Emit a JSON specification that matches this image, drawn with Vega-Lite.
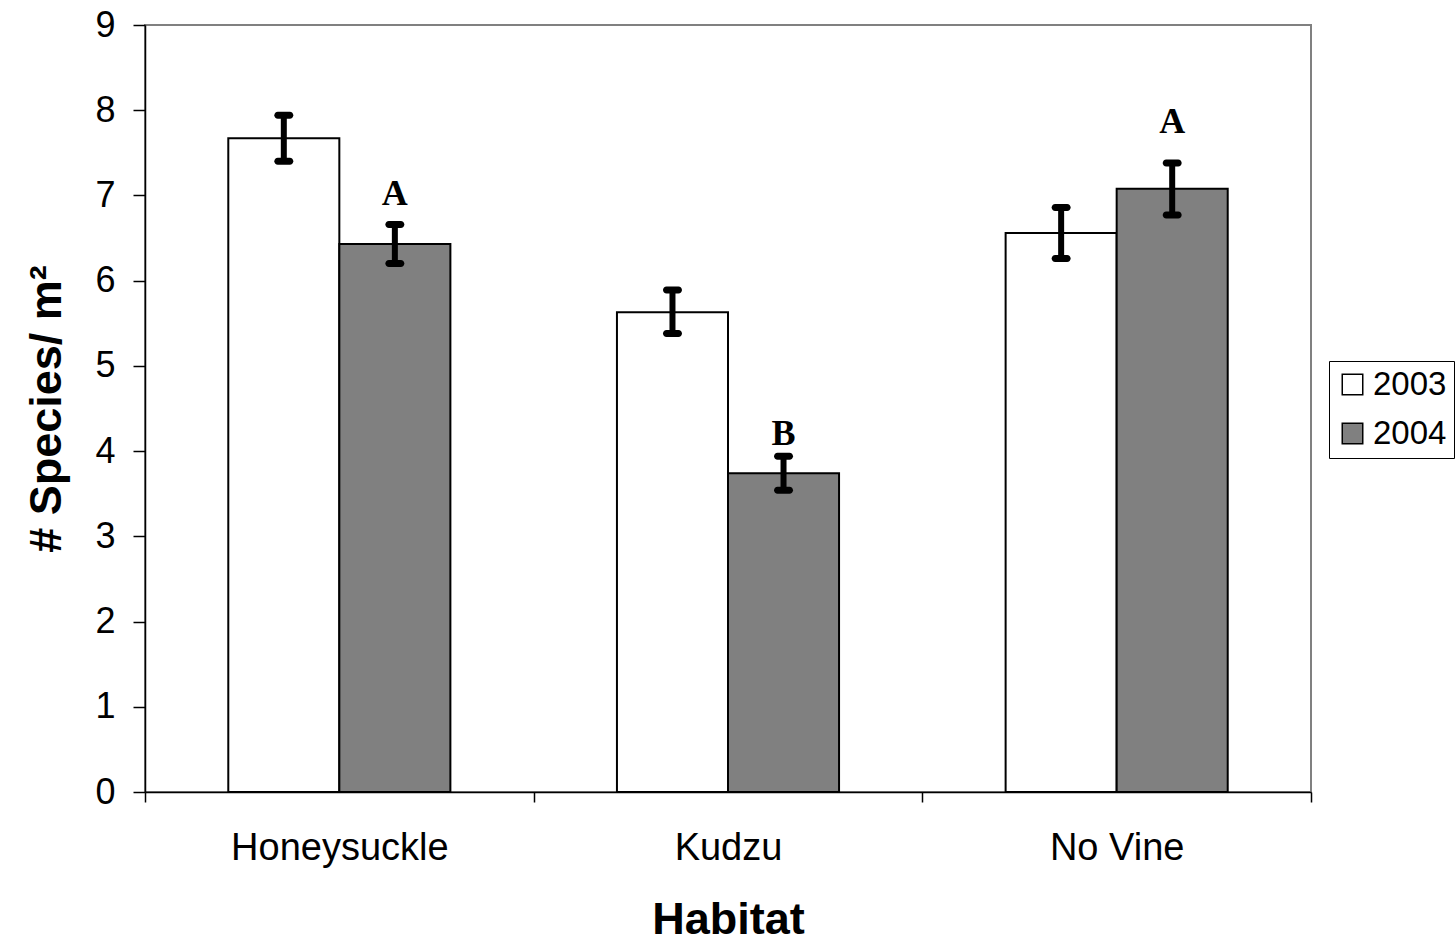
{
  "$schema": "https://vega.github.io/schema/vega-lite/v6.json",
  "autosize": {"type": "none"},
  "width": 1166,
  "height": 767,
  "padding": {"left": 145, "top": 25, "right": 144, "bottom": 150},
  "background": "white",
  "config": {
    "font": "Liberation Sans",
    "view": {"stroke": "#808080", "strokeWidth": 2},
    "axis": {"grid": false, "domainColor": "black", "tickColor": "black", "labelColor": "black", "titleColor": "black", "domainWidth": 1.5, "tickWidth": 1.5}
  },
  "data": {
    "values": [
      {"habitat": "Honeysuckle", "year": "2003", "mean": 7.67, "lo": 7.40, "hi": 7.94, "letter": "", "letterY": null},
      {"habitat": "Honeysuckle", "year": "2004", "mean": 6.43, "lo": 6.20, "hi": 6.66, "letter": "A", "letterY": 6.89},
      {"habitat": "Kudzu", "year": "2003", "mean": 5.63, "lo": 5.38, "hi": 5.89, "letter": "", "letterY": null},
      {"habitat": "Kudzu", "year": "2004", "mean": 3.74, "lo": 3.54, "hi": 3.94, "letter": "B", "letterY": 4.07},
      {"habitat": "No Vine", "year": "2003", "mean": 6.56, "lo": 6.26, "hi": 6.86, "letter": "", "letterY": null},
      {"habitat": "No Vine", "year": "2004", "mean": 7.08, "lo": 6.77, "hi": 7.38, "letter": "A", "letterY": 7.73}
    ]
  },
  "encoding": {
    "x": {
      "field": "habitat", "type": "nominal", "sort": ["Honeysuckle", "Kudzu", "No Vine"],
      "scale": {"paddingInner": 0, "paddingOuter": 0},
      "axis": {"title": "Habitat", "titleFontSize": 45, "titleFontWeight": "bold", "titlePadding": 30,
               "labelFontSize": 38, "labelAngle": 0, "labelPadding": 27, "labelLimit": 0, "tickSize": 10, "tickBand": "extent"}
    },
    "xOffset": {"field": "year", "type": "nominal", "scale": {"paddingInner": 0, "paddingOuter": 0.75}}
  },
  "layer": [
    {
      "mark": {"type": "bar", "stroke": "black", "strokeWidth": 2},
      "encoding": {
        "y": {"field": "mean", "type": "quantitative",
              "scale": {"domain": [0, 9], "nice": false},
              "axis": {"title": "# Species/ m²", "titleFontSize": 45, "titleFontWeight": "bold", "titlePadding": 25,
                       "labelFontSize": 36, "labelPadding": 18, "tickSize": 12, "format": "d", "values": [0,1,2,3,4,5,6,7,8,9]}},
        "fill": {"field": "year", "type": "nominal",
                 "scale": {"domain": ["2003", "2004"], "range": ["white", "#808080"]},
                 "legend": {"title": null, "orient": "none", "legendX": 1184, "legendY": 336,
                            "strokeColor": "black", "fillColor": "white", "padding": 7,
                            "labelFontSize": 33, "labelColor": "black", "symbolType": "square", "symbolSize": 420,
                            "symbolStrokeColor": "black", "symbolStrokeWidth": 1.5, "rowPadding": 15, "labelOffset": 4}}
      }
    },
    {
      "mark": {"type": "rule", "color": "black", "strokeWidth": 6},
      "encoding": {
        "y": {"field": "lo", "type": "quantitative"},
        "y2": {"field": "hi"}
      }
    },
    {
      "mark": {"type": "tick", "color": "black", "size": 19, "thickness": 7, "cornerRadius": 3.5, "opacity": 1},
      "encoding": {"y": {"field": "lo", "type": "quantitative"}}
    },
    {
      "mark": {"type": "tick", "color": "black", "size": 19, "thickness": 7, "cornerRadius": 3.5, "opacity": 1},
      "encoding": {"y": {"field": "hi", "type": "quantitative"}}
    },
    {
      "transform": [{"filter": "datum.letter != ''"}],
      "mark": {"type": "text", "font": "Liberation Serif", "fontWeight": "bold", "fontSize": 36, "baseline": "alphabetic", "color": "black"},
      "encoding": {
        "y": {"field": "letterY", "type": "quantitative"},
        "text": {"field": "letter"}
      }
    }
  ]
}
